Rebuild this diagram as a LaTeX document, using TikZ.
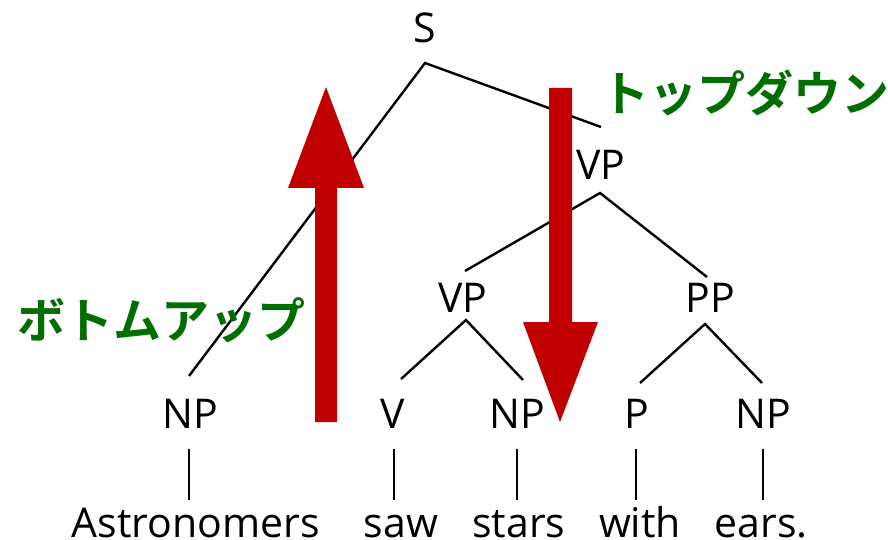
\documentclass[tikz,border=0pt]{standalone}
\usepackage{fontspec}
\setmainfont{Open Sans}
\newfontfamily\jpfont{Noto Sans CJK JP Bold}
\definecolor{arrred}{RGB}{192,0,0}
\definecolor{jpgreen}{RGB}{0,110,0}
\begin{document}
\begin{tikzpicture}[x=1pt,y=-1pt,
  lbl/.style={font=\fontsize{41}{46}\selectfont, inner sep=0pt, anchor=base},
  jp/.style={font=\jpfont\fontsize{48}{52}\selectfont, text=jpgreen, inner sep=0pt, anchor=center},
  edge/.style={draw=black, line width=2.4pt, line cap=butt},
  bigarrow/.style={fill=arrred, draw=none}]
\useasboundingbox (0,0) rectangle (888,540);
% labels
\node[lbl] (S) at (425,43) {S};
\node[lbl] (VPa) at (601,180) {VP};
\node[lbl] (VPb) at (463,312) {VP};
\node[lbl] (PP) at (710,312) {PP};
\node[lbl] (NPa) at (190,428) {NP};
\node[lbl] (V) at (393,428) {V};
\node[lbl] (NPb) at (517,428) {NP};
\node[lbl] (P) at (637,428) {P};
\node[lbl] (NPc) at (763,428) {NP};
\node[lbl] (w1) at (196,537) {Astronomers};
\node[lbl] (w2) at (401,537) {saw};
\node[lbl] (w3) at (519,537) {stars};
\node[lbl] (w4) at (640,537) {with};
\node[lbl] (w5) at (761,537) {ears.};
% connector points
\coordinate (S-b) at (425,63);
\coordinate (VPa-t) at (601,127);
\coordinate (VPa-b) at (600,193);
\coordinate (VPb-t) at (465,271);
\coordinate (PP-t) at (707,277);
\coordinate (VPb-b) at (466,320);
\coordinate (PP-b) at (705,324);
\coordinate (NPa-t) at (189,376);
\coordinate (V-t) at (401,379);
\coordinate (NPb-t) at (523,380);
\coordinate (P-t) at (640,383);
\coordinate (NPc-t) at (762,383);
\coordinate (NPa-b) at (189,449);
\coordinate (V-b) at (394,449);
\coordinate (NPb-b) at (517,449);
\coordinate (P-b) at (636,449);
\coordinate (NPc-b) at (763,449);
\coordinate (w1-t) at (189,500);
\coordinate (w2-t) at (394,500);
\coordinate (w3-t) at (517,500);
\coordinate (w4-t) at (636,500);
\coordinate (w5-t) at (763,500);
% edges
\draw[edge] (NPa-t) -- (S-b) -- (VPa-t);
\draw[edge] (VPb-t) -- (VPa-b) -- (PP-t);
\draw[edge] (V-t) -- (VPb-b) -- (NPb-t);
\draw[edge] (P-t) -- (PP-b) -- (NPc-t);
\draw[edge] (NPa-b) -- (w1-t);
\draw[edge] (V-b) -- (w2-t);
\draw[edge] (NPb-b) -- (w3-t);
\draw[edge] (P-b) -- (w4-t);
\draw[edge] (NPc-b) -- (w5-t);
% Japanese labels
\node[jp] (bu) at (161,320) {ボトムアップ};
\node[jp] (td) at (745,93) {トップダウン};
% red arrows
\path[bigarrow] (315,422) -- (337,422) -- (337,188) -- (364,188) -- (326,87) -- (288,188) -- (315,188) -- cycle;
\path[bigarrow] (549,88) -- (572,88) -- (572,322) -- (598,322) -- (560,422) -- (523,322) -- (549,322) -- cycle;
\end{tikzpicture}
\end{document}
